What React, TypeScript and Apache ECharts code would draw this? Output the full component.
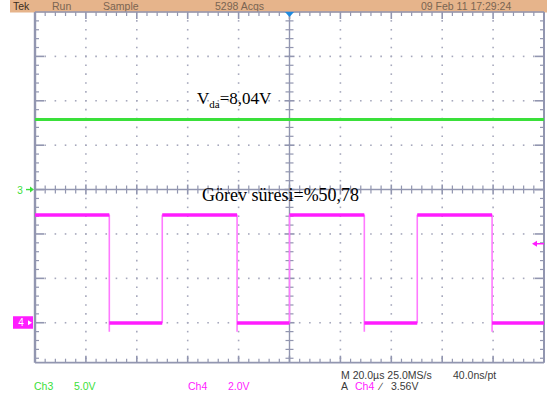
import { useEffect, useRef } from "react";
import * as echarts from "echarts";

// ---------------- data ----------------
const timeRangeUs = [-100, 100]; // 20 µs/div, trigger at 0
const divRange = [-3.9, 4]; // visible graticule rows (divisions)
const ch3VoltsPerDiv = 5;
const ch3GroundDiv = 0;
const ch4VoltsPerDiv = 2;
const ch4GroundDiv = -3;

const ch3Times = [-100, 100];
const ch3Volts = [7.9, 7.9];

const ch4EdgeTimes = [-70.8, -50.0, -20.6, 0.0, 29.4, 50.2, 79.6];
const ch4StartsHigh = true;
const ch4LevelVolts = [4.85, 0.0]; // high, low
const ch4FallUndershootVolts = -0.4;
const ch4TriggerVolts = 3.56;

const headerLabels = ["Tek", "Run", "Sample", "5298 Acqs", "09 Feb 11 17:29:24"];
const footerChannelLabels = ["Ch3", "5.0V", "Ch4", "2.0V"];
const footerTimebaseLabels = ["M 20.0µs 25.0MS/s", "40.0ns/pt"];
const footerTriggerLabels = ["A", "Ch4", "∕", "3.56V"];
const annotationVoltage = { main: "V", sub: "da", rest: "=8,04V" };
const annotationDuty = "Görev süresi=%50,78";

// ---------------- helpers ----------------
const SANS = '"Liberation Sans", Arial, sans-serif';
const SERIF = '"Liberation Serif", "Times New Roman", serif';
const GREEN = "#3ae03a";
const MAGENTA = "#ff1cff";
const GRID_LINE = "#9296b0";
const GRID_DOT = "#a6a8bc";

function buildCh4Path() {
  const [hi, lo] = ch4LevelVolts;
  const pts: number[][] = [];
  let level = ch4StartsHigh ? hi : lo;
  pts.push([timeRangeUs[0], level]);
  ch4EdgeTimes.forEach((t) => {
    pts.push([t, level]);
    if (level === hi) {
      pts.push([t, ch4FallUndershootVolts]);
      level = lo;
    } else {
      level = hi;
    }
    pts.push([t, level]);
  });
  pts.push([timeRangeUs[1], level]);
  return pts;
}

function buildCh4Levels() {
  const [hi, lo] = ch4LevelVolts;
  const times = [timeRangeUs[0], ...ch4EdgeTimes, timeRangeUs[1]];
  const segs: { coords: number[][] }[] = [];
  let level = ch4StartsHigh ? hi : lo;
  for (let i = 0; i < times.length - 1; i++) {
    segs.push({ coords: [[times[i], level], [times[i + 1], level]] });
    level = level === hi ? lo : hi;
  }
  return segs;
}

function renderGraticule(_params: any, api: any) {
  const P = (t: number, d: number) => api.coord([t, d]);
  const children: any[] = [];
  const line = (x1: number, y1: number, x2: number, y2: number, w: number, c = GRID_LINE) =>
    children.push({ type: "line", silent: true, shape: { x1, y1, x2, y2 }, style: { stroke: c, lineWidth: w } });
  const dot = (x: number, y: number) =>
    children.push({ type: "rect", silent: true, shape: { x: x - 0.8, y: y - 0.8, width: 1.6, height: 1.6 }, style: { fill: GRID_DOT } });

  const [t0, t1] = timeRangeUs;
  const [dMin, dMax] = divRange;
  const [xL, yT] = P(t0, dMax);
  const [xR, yB] = P(t1, dMin);
  const [xC, yC] = P(0, 0);

  const tSteps = 50; // minor ticks across 10 divisions
  const minorT = (k: number) => t0 + (k * (t1 - t0)) / tSteps;
  const dSteps = Math.round((dMax - dMin) / 0.2);
  const minorD = (k: number) => dMax - k * 0.2;

  // dotted major lines
  for (let j = 1; j < 10; j++) {
    if (j === 5) continue;
    const [x] = P(t0 + j * 20, 0);
    for (let k = 1; k <= dSteps; k++) {
      const [, y] = P(0, minorD(k));
      if (y < yB - 1) dot(x, y);
    }
  }
  for (let d = Math.floor(dMax) - 1; d > dMin; d--) {
    if (d === 0) continue;
    const [, y] = P(0, d);
    for (let k = 1; k < tSteps; k++) {
      const [x] = P(minorT(k), 0);
      dot(x, y);
    }
  }

  // centre cross
  line(xL, yC, xR, yC, 1.4);
  line(xC, yT, xC, yB, 1.4);
  for (let k = 1; k < tSteps; k++) {
    const [x] = P(minorT(k), 0);
    const major = k % 5 === 0;
    line(x, yC - (major ? 5 : 4), x, yC + (major ? 5 : 4), major ? 1.6 : 1.2);
    // top / bottom border ticks
    line(x, yT, x, yT + (major ? 7 : 4), major ? 1.6 : 1.2);
    line(x, yB, x, yB - (major ? 7 : 4), major ? 1.6 : 1.2);
  }
  for (let k = 1; k <= dSteps; k++) {
    const d = minorD(k);
    const [, y] = P(0, d);
    if (y > yB - 1) continue;
    const major = Math.abs(d - Math.round(d)) < 1e-6;
    line(xC - (major ? 5 : 4), y, xC + (major ? 5 : 4), y, major ? 1.6 : 1.2);
    line(xL, y, xL + (major ? 9 : 4), y, major ? 1.6 : 1.2);
    line(xR, y, xR - (major ? 9 : 4), y, major ? 1.6 : 1.2);
  }

  // border
  line(xL, yT, xR, yT, 1.4);
  line(xL, yB, xR, yB, 1.8);
  line(xL, yT, xL, yB, 2.4);
  line(xR, yT, xR, yB, 2);

  // trigger position marker (top)
  const [xTrig] = P(0, 0);
  children.push({
    type: "polygon",
    silent: true,
    shape: { points: [[xTrig - 4.5, yT], [xTrig + 4.5, yT], [xTrig, yT + 5]] },
    style: { fill: "#1f8be0" },
  });

  // ground markers
  const [, yG3] = P(0, ch3GroundDiv);
  children.push({
    type: "text",
    silent: true,
    x: xL - 15,
    y: yG3 + 1,
    style: { text: "3", fill: GREEN, font: `10px ${SANS}`, align: "center", verticalAlign: "middle" },
  });
  line(xL - 9, yG3, xL - 3, yG3, 1.4, GREEN);
  children.push({
    type: "polygon",
    silent: true,
    shape: { points: [[xL - 5, yG3 - 3], [xL - 1, yG3], [xL - 5, yG3 + 3]] },
    style: { fill: GREEN },
  });

  const [, yG4] = P(0, ch4GroundDiv);
  children.push({
    type: "rect",
    silent: true,
    shape: { x: xL - 22, y: yG4 - 6.5, width: 20, height: 12.5 },
    style: { fill: MAGENTA },
  });
  children.push({
    type: "text",
    silent: true,
    x: xL - 14,
    y: yG4,
    style: { text: "4", fill: "#ffffff", font: `10px ${SANS}`, align: "center", verticalAlign: "middle" },
  });
  children.push({
    type: "polygon",
    silent: true,
    shape: { points: [[xL - 7, yG4 - 2.5], [xL - 3, yG4], [xL - 7, yG4 + 2.5]] },
    style: { fill: "#ffffff" },
  });

  // trigger level marker (right)
  const [, yTL] = P(0, ch4TriggerVolts / ch4VoltsPerDiv + ch4GroundDiv);
  line(xR - 8, yTL, xR, yTL, 1.5, MAGENTA);
  children.push({
    type: "polygon",
    silent: true,
    shape: { points: [[xR - 12, yTL], [xR - 7, yTL - 3], [xR - 7, yTL + 3]] },
    style: { fill: MAGENTA },
  });

  return { type: "group", children };
}

export default function App() {
  const ref = useRef<HTMLDivElement>(null);

  useEffect(() => {
    if (!ref.current) return;
    const chart = echarts.init(ref.current, undefined, { renderer: "svg" });

    const ch3Range = divRange.map((d) => (d - ch3GroundDiv) * ch3VoltsPerDiv);
    const ch4Range = divRange.map((d) => (d - ch4GroundDiv) * ch4VoltsPerDiv);

    const headerX = [13, 52, 103, 215, 421];
    const headerFill = ["#3b2d20", "#7a6552", "#7a6552", "#7a6552", "#7a6552"];
    const chX = [34, 74, 188, 228];
    const chFill = [GREEN, GREEN, MAGENTA, MAGENTA];
    const tbX = [341, 453];
    const trX = [341, 355, 380, 391];
    const trFill = ["#3a3a3a", MAGENTA, "#3a3a3a", "#3a3a3a"];

    const txt = (text: string, x: number, y: number, fill: string, font: string) => ({
      type: "text",
      x,
      y,
      silent: true,
      style: { text, fill, font, align: "left", verticalAlign: "middle" },
    });

    const option: any = {
      animation: false,
      backgroundColor: "#ffffff",
      grid: { left: 35, top: 12, width: 509, height: 350.7, outerBoundsMode: "none", containLabel: false },
      xAxis: [{ type: "value", min: timeRangeUs[0], max: timeRangeUs[1], show: false }],
      yAxis: [
        { type: "value", min: divRange[0], max: divRange[1], show: false },
        { type: "value", min: ch3Range[0], max: ch3Range[1], show: false },
        { type: "value", min: ch4Range[0], max: ch4Range[1], show: false },
      ],
      series: [
        {
          type: "custom",
          name: "graticule",
          xAxisIndex: 0,
          yAxisIndex: 0,
          clip: false,
          silent: true,
          z: 1,
          data: [[0, 0]],
          renderItem: renderGraticule,
        },
        {
          type: "line",
          name: "Ch3",
          xAxisIndex: 0,
          yAxisIndex: 1,
          z: 3,
          symbol: "none",
          data: ch3Times.map((t, i) => [t, ch3Volts[i]]),
          lineStyle: { color: GREEN, width: 3 },
        },
        {
          type: "line",
          name: "Ch4 edges",
          xAxisIndex: 0,
          yAxisIndex: 2,
          z: 3,
          symbol: "none",
          data: buildCh4Path(),
          lineStyle: { color: "#ff7aff", width: 1.6 },
        },
        {
          type: "lines",
          name: "Ch4",
          coordinateSystem: "cartesian2d",
          xAxisIndex: 0,
          yAxisIndex: 2,
          z: 4,
          polyline: false,
          data: buildCh4Levels(),
          lineStyle: { color: MAGENTA, width: 3.5, opacity: 1 },
        },
      ],
      graphic: [
        {
          type: "rect",
          silent: true,
          shape: { x: 10, y: 0, width: 537, height: 12.5 },
          style: { fill: "#e6b48b" },
          z: 0,
        },
        ...headerLabels.map((s, i) => txt(s, headerX[i], 6, headerFill[i], `10.5px ${SANS}`)),
        ...footerChannelLabels.map((s, i) => txt(s, chX[i], 386, chFill[i], `10.5px ${SANS}`)),
        ...footerTimebaseLabels.map((s, i) => txt(s, tbX[i], 375, "#3a3a3a", `10.5px ${SANS}`)),
        ...footerTriggerLabels.map((s, i) => txt(s, trX[i], 386, trFill[i], `10.5px ${SANS}`)),
        {
          type: "text",
          x: 197,
          y: 107,
          silent: true,
          z: 10,
          style: {
            text: `{m|${annotationVoltage.main}}{s|${annotationVoltage.sub}}{m|${annotationVoltage.rest}}`,
            align: "left",
            verticalAlign: "bottom",
            rich: {
              m: { font: `17px ${SERIF}`, fill: "#000000", verticalAlign: "bottom" },
              s: { font: `11px ${SERIF}`, fill: "#000000", verticalAlign: "bottom", padding: [0, 0, -2, 0] },
            },
          },
        },
        {
          type: "text",
          x: 202,
          y: 194.6,
          silent: true,
          z: 10,
          style: { text: annotationDuty, fill: "#000000", font: `18px ${SERIF}`, align: "left", verticalAlign: "middle" },
        },
      ],
    };

    chart.setOption(option);
    return () => chart.dispose();
  }, []);

  return (
    <div
      ref={ref}
      style={{ position: "absolute", left: 0, top: 0, width: 553, height: 394, background: "#ffffff" }}
    />
  );
}
